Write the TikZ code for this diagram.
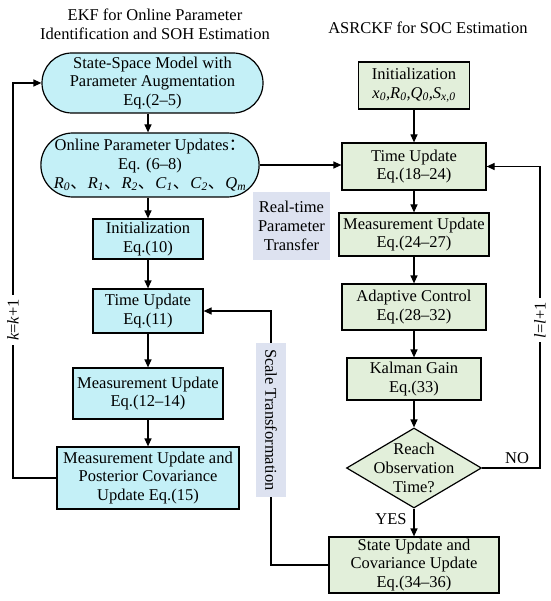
\documentclass[tikz,border=0pt]{standalone}
\usepackage{fontspec}
\setmainfont{Liberation Serif}
\newfontfamily\cjk{Noto Sans CJK SC}
\usetikzlibrary{shapes.geometric,shapes.misc,arrows.meta}
\definecolor{cyanbox}{RGB}{196,240,247}
\definecolor{greenbox}{RGB}{226,239,218}
\definecolor{lavbox}{RGB}{221,226,240}
\newcommand\isub[2]{\textit{#1}\textsubscript{\textit{#2}}}
\newcommand\cc{{\cjk 、}\hspace{1pt}}
\tikzset{
  base/.style={font=\fontsize{16.5}{18.7}\selectfont, align=center, inner sep=0pt},
  lbox/.style={base, draw, line width=1.2pt, fill=cyanbox, rectangle},
  lround/.style={base, draw, line width=1.2pt, fill=cyanbox, rounded rectangle},
  rbox/.style={base, draw, line width=1.2pt, fill=greenbox, rectangle},
  tagbox/.style={base, fill=lavbox},
  arr/.style={line width=1.2pt, -{Triangle[length=8pt,width=7pt]}},
  looplabel/.style={base, fill=white, inner sep=4pt, rotate=90},
  titletext/.style={base}
}
\begin{document}
\begin{tikzpicture}[x=1pt,y=-1pt]
\useasboundingbox (0,0) rectangle (550,601);
% titles
\node[titletext] (t1) at (155,24) {EKF for Online Parameter\\Identification and SOH Estimation};
\node[titletext] (t2) at (428,28) {ASRCKF for SOC Estimation};
% left column
\node[lround, minimum width=221pt, minimum height=60pt] (n1) at (152.5,83) {State-Space Model with\\Parameter Augmentation\\Eq.(2–5)};
\node[lround, minimum width=214pt, minimum height=64pt] (n2) at (150,165) {Online Parameter Updates{\cjk ：}\\Eq. (6–8)\\\isub{R}{0}\cc\isub{R}{1}\cc\isub{R}{2}\cc\isub{C}{1}\cc\isub{C}{2}\cc\isub{Q}{m}};
\node[lbox, minimum width=110pt, minimum height=40pt] (n3) at (148,239) {Initialization\\Eq.(10)};
\node[lbox, minimum width=110pt, minimum height=44pt] (n4) at (148,311) {Time Update\\Eq.(11)};
\node[lbox, minimum width=150pt, minimum height=51pt] (n5) at (148,393.5) {Measurement Update\\Eq.(12–14)};
\node[lbox, minimum width=182pt, minimum height=62pt] (n6) at (148,478) {Measurement Update and\\Posterior Covariance\\Update Eq.(15)};
% right column
\node[rbox, minimum width=111pt, minimum height=47pt] (r1) at (414,85.5) {Initialization\\{\itshape x\textsubscript{0},R\textsubscript{0},Q\textsubscript{0},S\textsubscript{x,0}}};
\node[rbox, minimum width=144pt, minimum height=47pt] (r2) at (414,166.5) {Time Update\\Eq.(18–24)};
\node[rbox, minimum width=150pt, minimum height=43pt] (r3) at (414,234.5) {Measurement Update\\Eq.(24–27)};
\node[rbox, minimum width=144pt, minimum height=46pt] (r4) at (414,307) {Adaptive Control\\Eq.(28–32)};
\node[rbox, minimum width=134pt, minimum height=42pt] (r5) at (414,379) {Kalman Gain\\Eq.(33)};
\node[draw, line width=1.2pt, fill=greenbox, diamond, minimum width=135pt, minimum height=80pt, inner sep=0pt] (dia) at (414,468) {};
\node[base] (diatext) at (dia) {Reach\\Observation\\Time?};
\node[rbox, minimum width=170pt, minimum height=56pt] (r6) at (414,565) {State Update and\\Covariance Update\\Eq.(34–36)};
% helper coordinates
\coordinate (lx) at (13,0);
\coordinate (rx) at (540,0);
\coordinate (sx) at (271,0);
% left arrows
\draw[arr] (n1.south -| n3) -- (n2.north -| n3);
\draw[arr] (n2.south -| n3) -- (n3);
\draw[arr] (n3) -- (n4);
\draw[arr] (n4) -- (n5);
\draw[arr] (n5) -- (n6);
\draw[arr] (n6.west) -- (n6.west -| lx) |- (n1.west);
\node[looplabel] (klab) at (13,320) {\textit{k}=\textit{k}+1};
% right arrows
\draw[arr] (r1) -- (r2);
\draw[arr] (r2) -- (r3);
\draw[arr] (r3) -- (r4);
\draw[arr] (r4) -- (r5);
\draw[arr] (r5) -- (dia);
\draw[arr] (dia) -- (r6);
\draw[arr] (dia.east) -- (dia.east -| rx) |- (r2.east);
\node[looplabel] (llab) at (540,320) {\textit{l}=\textit{l}+1};
\node[base] (yes) at (391,519) {YES};
\node[base] (no) at (517,458) {NO};
% cross links
\draw[arr] (n2.east) -- (n2.east -| r2.west);
\draw[arr] (r6.west) -- (r6.west -| sx) |- (n4.east);
\node[tagbox, minimum width=77pt, minimum height=68pt] (rt) at (291.5,226) {Real-time\\Parameter\\Transfer};
\node[tagbox, minimum width=154pt, minimum height=30pt, rotate=-90] (st) at (271,420) {Scale Transformation};
\end{tikzpicture}
\end{document}
